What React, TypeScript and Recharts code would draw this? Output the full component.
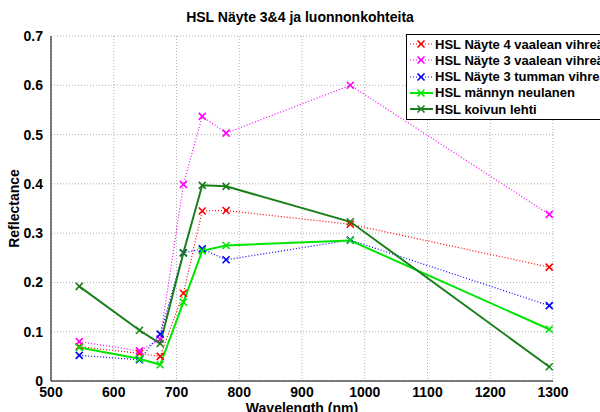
import { LineChart, Line, XAxis, YAxis, CartesianGrid } from "recharts";

const wavelengths = [545, 641, 674, 711, 741, 779, 977, 1294];
const nayte4Vaalea = [0.07, 0.056, 0.05, 0.178, 0.345, 0.346, 0.318, 0.231];
const nayte3Vaalea = [0.08, 0.061, 0.085, 0.399, 0.537, 0.503, 0.6, 0.338];
const nayte3Tumma = [0.052, 0.043, 0.095, 0.26, 0.268, 0.246, 0.286, 0.153];
const mannynNeulanen = [0.068, 0.045, 0.033, 0.16, 0.264, 0.275, 0.285, 0.105];
const koivunLehti = [0.192, 0.103, 0.076, 0.26, 0.397, 0.395, 0.323, 0.029];

const xTicks = [500, 600, 700, 800, 900, 1000, 1100, 1200, 1300];
const yTicks = [0, 0.1, 0.2, 0.3, 0.4, 0.5, 0.6, 0.7];

const series = [
  { key: "n4v", name: "HSL Näyte 4 vaalean vihreä", values: nayte4Vaalea, color: "#ff0000", dotted: true },
  { key: "n3v", name: "HSL Näyte 3 vaalean vihreä", values: nayte3Vaalea, color: "#ff00ff", dotted: true },
  { key: "n3t", name: "HSL Näyte 3 tumman vihreä", values: nayte3Tumma, color: "#0000ff", dotted: true },
  { key: "mn", name: "HSL männyn neulanen", values: mannynNeulanen, color: "#00e600", dotted: false },
  { key: "kl", name: "HSL koivun lehti", values: koivunLehti, color: "#1a7f1a", dotted: false },
];

const data = wavelengths.map((w, i) => {
  const row: Record<string, number> = { w };
  series.forEach((s) => (row[s.key] = s.values[i]));
  return row;
});

const FONT = "'Liberation Sans', Arial, sans-serif";

function Cross({ cx, cy, color }: { cx?: number; cy?: number; color: string }) {
  if (cx == null || cy == null) return null;
  const r = 3.5;
  return (
    <g stroke={color} strokeWidth={1.6}>
      <line x1={cx - r} y1={cy - r} x2={cx + r} y2={cy + r} />
      <line x1={cx - r} y1={cy + r} x2={cx + r} y2={cy - r} />
    </g>
  );
}

function LegendBox() {
  return (
    <div
      style={{
        position: "absolute",
        top: 34,
        left: 406,
        border: "1px solid #000",
        background: "#fff",
        width: 220,
        padding: "1px 0 2px 0",
        fontFamily: FONT,
        fontWeight: "bold",
        fontSize: 13,
      }}
    >
      {series.map((s) => (
        <div key={s.key} style={{ display: "flex", alignItems: "center", height: 16.25, whiteSpace: "nowrap" }}>
          <svg width={27} height={12} style={{ flex: "none" }}>
            <line
              x1={3}
              y1={6}
              x2={26}
              y2={6}
              stroke={s.color}
              strokeWidth={s.dotted ? 1 : 2}
              strokeDasharray={s.dotted ? "1 2" : undefined}
            />
            <Cross cx={14} cy={6} color={s.color} />
          </svg>
          <span style={{ marginLeft: 1 }}>{s.name}</span>
        </div>
      ))}
    </div>
  );
}

export default function App() {
  return (
    <div style={{ position: "absolute", left: 0, top: 0, width: 600, height: 412, background: "#fff", overflow: "hidden" }}>
      <div
        style={{
          position: "absolute",
          top: 9,
          left: 0,
          width: 600,
          textAlign: "center",
          fontFamily: FONT,
          fontWeight: "bold",
          fontSize: 14,
        }}
      >
        HSL Näyte 3&amp;4 ja luonnonkohteita
      </div>
      <LineChart
        width={600}
        height={412}
        data={data}
        margin={{ top: 36, right: 47, bottom: 0, left: 0 }}
      >
        <CartesianGrid stroke="#b0b0b0" strokeDasharray="1 2" vertical horizontal />
        <XAxis
          dataKey="w"
          type="number"
          domain={[500, 1300]}
          ticks={xTicks}
          height={31}
          tickLine={false}
          axisLine={{ stroke: "#000" }}
          tick={{ fill: "#000", fontFamily: FONT, fontWeight: "bold", fontSize: 14 }}
          tickMargin={0}
          label={{
            value: "Wavelength (nm)",
            position: "insideBottom",
            offset: -1,
            fill: "#000",
            fontFamily: FONT,
            fontWeight: "bold",
            fontSize: 14,
          }}
        />
        <YAxis
          type="number"
          domain={[0, 0.7]}
          ticks={yTicks}
          width={51}
          tickLine={false}
          axisLine={{ stroke: "#000" }}
          tickFormatter={(v: number) => (v === 0 ? "0" : String(v))}
          tick={{ fill: "#000", fontFamily: FONT, fontWeight: "bold", fontSize: 14 }}
          tickMargin={2}
          label={{
            value: "Reflectance",
            angle: -90,
            position: "insideLeft",
            offset: 14,
            fill: "#000",
            fontFamily: FONT,
            fontWeight: "bold",
            fontSize: 14,
            style: { textAnchor: "middle" },
          }}
        />
        {series.map((s) => (
          <Line
            key={s.key}
            dataKey={s.key}
            name={s.name}
            stroke={s.color}
            strokeWidth={s.dotted ? 1.2 : 2}
            strokeDasharray={s.dotted ? "1 2" : undefined}
            isAnimationActive={false}
            dot={(p: any) => <Cross key={`${s.key}-${p.index}`} cx={p.cx} cy={p.cy} color={s.color} />}
            activeDot={false}
          />
        ))}
      </LineChart>
      <LegendBox />
    </div>
  );
}
